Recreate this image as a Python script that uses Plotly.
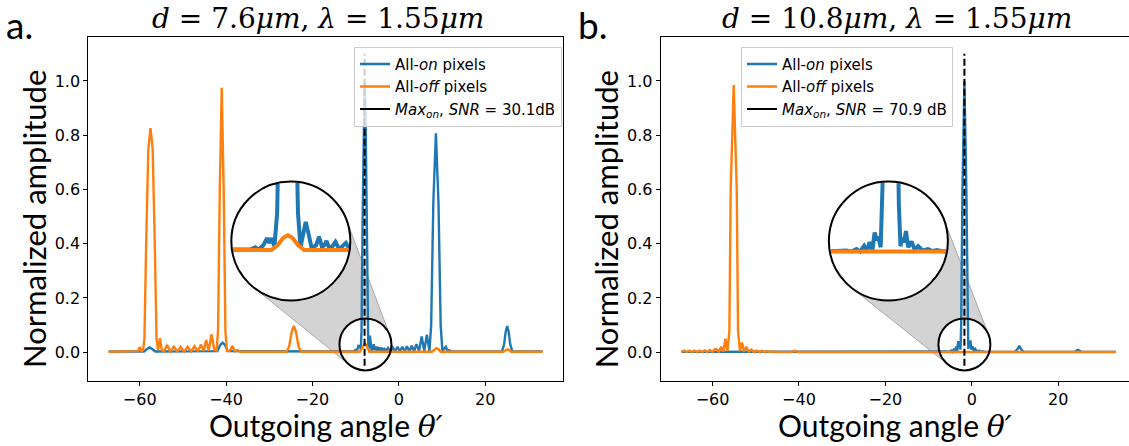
import math
import plotly.graph_objects as go

W, H = 1129, 446

# ---------------- data (outgoing angle in degrees, normalized amplitude) ----------------
# panel a: d = 7.6 um
a_on_x = [-67.2, -59.0, -58.3, -57.7, -57.1, -56.4, -42.0, -41.4, -40.8, -40.2, -39.6,
          -12.0, -10.4, -10.1, -9.85, -9.55, -9.3, -9.15, -9.0, -8.8, -8.62, -8.4, -8.15,
          -7.92, -7.7, -7.45, -7.22, -7.05, -6.85, -6.7, -6.5, -6.3, -6.0, -5.8, -5.6,
          -5.45, -5.3, -5.1, -4.9, -4.7, -4.45, -4.2, -4.0, -3.75, -3.4, -3.0, -2.5, -1.95,
          -1.4, -0.85, -0.3, 0.25, 0.8, 1.35, 1.9, 2.45, 3.0, 3.55, 4.1, 4.7, 5.3, 5.9,
          6.5, 7.1, 7.5, 8.0, 8.6, 9.2, 9.7, 10.1, 10.5, 10.9, 11.3, 11.7, 12.2,
          23.9, 24.4, 24.75, 25.1, 25.45, 25.8, 26.3, 33.3]
a_on_y = [0.003, 0.003, 0.012, 0.018, 0.012, 0.003, 0.004, 0.026, 0.035, 0.026, 0.004,
          0.003, 0.003, 0.008, 0.003, 0.012, 0.027, 0.017, 0.027, 0.010, 0.080, 0.450, 0.880,
          1.000, 0.880, 0.450, 0.080, 0.008, 0.035, 0.061, 0.035, 0.006, 0.012, 0.030, 0.008,
          0.012, 0.021, 0.005, 0.010, 0.019, 0.004, 0.010, 0.017, 0.004, 0.015, 0.003, 0.016,
          0.003, 0.018, 0.003, 0.020, 0.003, 0.020, 0.003, 0.022, 0.003, 0.024, 0.003, 0.030,
          0.004, 0.058, 0.005, 0.065, 0.005, 0.100, 0.550, 0.807, 0.550, 0.100, 0.005,
          0.015, 0.020, 0.004, 0.008, 0.003,
          0.003, 0.030, 0.075, 0.097, 0.075, 0.030, 0.003, 0.003]

a_off_x = [-67.2, -60.4, -60.0, -59.6, -59.2, -58.9, -58.5, -58.0, -57.5, -57.0, -56.5,
           -56.1, -55.75, -55.3, -54.9, -54.3, -53.7, -52.9, -52.1, -51.3, -50.5, -49.7,
           -48.9, -48.1, -47.3, -46.55, -45.8, -45.2, -44.6, -44.0, -43.4, -42.7, -42.2,
           -41.85, -41.45, -41.0, -40.55, -40.15, -39.8, -39.1, -38.5, -38.0, -37.3, -36.8,
           -26.0, -25.4, -24.8, -24.3, -23.8, -23.2, -22.6,
           -9.0, -8.6, -8.2, -7.9, -7.6, -7.2, -6.8,
           7.7, 8.3, 8.7, 9.1, 9.7, 24.2, 24.7, 25.1, 25.5, 26.0, 33.3]
a_off_y = [0.002, 0.004, 0.020, 0.004, 0.008, 0.050, 0.400, 0.750, 0.826, 0.750, 0.400,
           0.050, 0.008, 0.052, 0.008, 0.004, 0.027, 0.003, 0.020, 0.003, 0.020, 0.003,
           0.020, 0.003, 0.022, 0.004, 0.028, 0.005, 0.045, 0.006, 0.066, 0.008, 0.006,
           0.080, 0.600, 0.975, 0.600, 0.080, 0.005, 0.006, 0.023, 0.003, 0.008, 0.002,
           0.002, 0.020, 0.075, 0.097, 0.075, 0.020, 0.002,
           0.002, 0.012, 0.028, 0.033, 0.028, 0.012, 0.002,
           0.002, 0.012, 0.015, 0.012, 0.002, 0.002, 0.009, 0.011, 0.009, 0.002, 0.002]

# panel b: d = 10.8 um
b_on_x = [-67.2, -16.6, -16.0, -15.4, -7.7, -6.7, -5.7, -5.25, -4.8, -4.45, -4.1, -3.85,
          -3.6, -3.35, -3.15, -2.95, -2.8, -2.6, -2.45, -2.15, -1.7, -1.25, -0.95, -0.8,
          -0.65, -0.5, -0.3, -0.1, 0.2, 0.5, 0.8, 1.2, 1.7, 2.1, 2.5, 3.0,
          10.0, 10.6, 11.0, 11.4, 12.0, 23.8, 24.3, 24.6, 24.9, 25.4, 33.3]
b_on_y = [0.0015, 0.0015, 0.004, 0.0015, 0.0015, 0.002, 0.003, 0.001, 0.006, 0.001, 0.013,
          0.002, 0.021, 0.003, 0.041, 0.025, 0.032, 0.010, 0.100, 0.600, 1.000, 0.600,
          0.100, 0.012, 0.030, 0.020, 0.044, 0.010, 0.022, 0.004, 0.012, 0.003, 0.006,
          0.002, 0.004, 0.0015,
          0.0015, 0.012, 0.024, 0.012, 0.0015, 0.0015, 0.006, 0.009, 0.006, 0.0015, 0.0015]

b_off_x = [-67.2, -66.6, -66.0, -65.4, -64.8, -64.2, -63.6, -63.0, -62.4, -61.8, -61.2,
           -60.6, -60.0, -59.4, -59.0, -58.5, -58.0, -57.5, -57.0, -56.55, -56.1, -55.8,
           -55.1, -54.4, -54.1, -53.65, -53.2, -52.7, -52.2, -51.6, -51.0, -50.4, -49.8,
           -49.2, -48.6, -48.0, -47.4, -46.8, -46.2, -45.6, -41.6, -41.0, -40.4, 33.3]
b_off_y = [0.002, 0.006, 0.001, 0.006, 0.001, 0.006, 0.001, 0.006, 0.001, 0.007, 0.001,
           0.008, 0.001, 0.012, 0.010, 0.002, 0.020, 0.003, 0.050, 0.004, 0.080, 0.600,
           0.985, 0.600, 0.080, 0.004, 0.036, 0.003, 0.020, 0.002, 0.010, 0.001, 0.006,
           0.001, 0.005, 0.001, 0.004, 0.001, 0.003, 0.001, 0.001, 0.006, 0.001, 0.001]

a_peak = -7.92
b_peak = -1.7
max_line_y = [-0.05, 1.1]
a_snr = "30.1dB"
b_snr = "70.9 dB"
EQ = "&nbsp;=&nbsp;"
a_title = f"<i>d</i>{EQ}7.6<i>μm</i>,&nbsp;<i>λ</i>{EQ}1.55<i>μm</i>"
b_title = f"<i>d</i>{EQ}10.8<i>μm</i>,&nbsp;<i>λ</i>{EQ}1.55<i>μm</i>"
x_ticks = [-60, -40, -20, 0, 20]
y_ticks = [0.0, 0.2, 0.4, 0.6, 0.8, 1.0]

BLUE = "#1f77b4"
ORANGE = "#ff7f0e"

# ---------------- geometry (pixels) ----------------
Y_TOP, Y_BOT = 37.3, 381.0
Y_RANGE = [-0.106, 1.161]

panels = [
    dict(name="a", x0=88.3, x1=563.3, xr=[-71.9, 38.1], mirror_y=True,
         on=(a_on_x, a_on_y), off=(a_off_x, a_off_y), peak=a_peak, snr=a_snr,
         title=a_title, title_x=318.0, label_x=4.0,
         small=(a_peak + 0.2, 0.029, 26.0), big=(-25.0, 0.41, 59.5),
         in_xr=[-11.7, -3.7], in_yr=[-0.104, 0.146], legend_x=354.0),
    dict(name="b", x0=660.7, x1=1129.0, xr=[-72.0, 36.4], mirror_y=False,
         on=(b_on_x, b_on_y), off=(b_off_x, b_off_y), peak=b_peak, snr=b_snr,
         title=b_title, title_x=897.0, label_x=576.0,
         small=(b_peak, 0.029, 26.0), big=(-19.3, 0.41, 59.5),
         in_xr=[b_peak - 5.6, b_peak + 5.2], in_yr=[-0.102, 0.148], legend_x=741.0),
]


def px(p, x):
    return p["x0"] + (x - p["xr"][0]) / (p["xr"][1] - p["xr"][0]) * (p["x1"] - p["x0"])


def py(y):
    return Y_BOT - (y - Y_RANGE[0]) / (Y_RANGE[1] - Y_RANGE[0]) * (Y_BOT - Y_TOP)


def clip_circle(xs, ys, xr, yr, R=0.985):
    """Clip a polyline to the circle inscribed in the inset axes box."""
    xm, xh = (xr[0] + xr[1]) / 2, (xr[1] - xr[0]) / 2
    ym, yh = (yr[0] + yr[1]) / 2, (yr[1] - yr[0]) / 2
    u = [(x - xm) / xh for x in xs]
    v = [(y - ym) / yh for y in ys]
    ou, ov = [], []
    cont = False
    for i in range(len(u) - 1):
        ax_, ay_ = u[i], v[i]
        dx, dy = u[i + 1] - ax_, v[i + 1] - ay_
        a = dx * dx + dy * dy
        b = 2 * (ax_ * dx + ay_ * dy)
        c = ax_ * ax_ + ay_ * ay_ - R * R
        disc = b * b - 4 * a * c
        if a == 0 or disc <= 0:
            cont = False
            continue
        sq = math.sqrt(disc)
        t0 = max((-b - sq) / (2 * a), 0.0)
        t1 = min((-b + sq) / (2 * a), 1.0)
        if t0 >= t1:
            cont = False
            continue
        if not (cont and t0 == 0.0):
            if ou:
                ou.append(None)
                ov.append(None)
            ou.append(ax_ + t0 * dx)
            ov.append(ay_ + t0 * dy)
        ou.append(ax_ + t1 * dx)
        ov.append(ay_ + t1 * dy)
        cont = (t1 == 1.0)
    X = [None if q is None else xm + q * xh for q in ou]
    Y = [None if q is None else ym + q * yh for q in ov]
    return X, Y


fig = go.Figure()
shapes = []
annotations = []
layout_axes = {}

for k, p in enumerate(panels):
    xa = "x" if k == 0 else "x2"
    ya = "y" if k == 0 else "y2"
    leg = "legend" if k == 0 else "legend2"
    ia = 3 + k
    # main traces
    fig.add_trace(go.Scatter(x=p["on"][0], y=p["on"][1], mode="lines", xaxis=xa, yaxis=ya,
                             line=dict(color=BLUE, width=2.4), name="All-<i>on</i> pixels",
                             legend=leg, hoverinfo="skip"))
    fig.add_trace(go.Scatter(x=p["off"][0], y=p["off"][1], mode="lines", xaxis=xa, yaxis=ya,
                             line=dict(color=ORANGE, width=2.4), name="All-<i>off</i> pixels",
                             legend=leg, hoverinfo="skip"))
    fig.add_trace(go.Scatter(x=[p["peak"], p["peak"]], y=max_line_y, mode="lines",
                             xaxis=xa, yaxis=ya, showlegend=False, hoverinfo="skip",
                             line=dict(color="black", width=2, dash="7px,3px")))
    fig.add_trace(go.Scatter(x=[None], y=[None], mode="lines", xaxis=xa, yaxis=ya,
                             line=dict(color="black", width=2), legend=leg,
                             name="<i>Max</i><sub><i>on</i></sub>, <i>SNR</i> = " + p["snr"]))
    # inset traces (clipped to the magnifier circle)
    for (sx, sy), col in ((p["on"], BLUE), (p["off"], ORANGE)):
        cx_, cy_ = clip_circle(sx, sy, p["in_xr"], p["in_yr"])
        fig.add_trace(go.Scatter(x=cx_, y=cy_, mode="lines", xaxis=f"x{ia}", yaxis=f"y{ia}",
                                 line=dict(color=col, width=4), showlegend=False,
                                 hoverinfo="skip", connectgaps=False))

    # axes
    axis_common = dict(showgrid=False, zeroline=False, showline=True, linecolor="black",
                       linewidth=1, ticks="outside", ticklen=4, tickwidth=1, tickcolor="black",
                       tickfont=dict(family="DejaVu Sans", size=16, color="black"))
    xd = [p["x0"] / W, min(p["x1"] / W, 1.0)]
    yd = [1 - Y_BOT / H, 1 - Y_TOP / H]
    layout_axes["xaxis" if k == 0 else "xaxis2"] = dict(
        axis_common, domain=xd, range=p["xr"], tickvals=x_ticks, anchor=ya, mirror=True)
    layout_axes["yaxis" if k == 0 else "yaxis2"] = dict(
        axis_common, domain=yd, range=Y_RANGE, tickvals=y_ticks, tickformat=".1f",
        anchor=xa, mirror=p["mirror_y"])

    # circles / cone in pixel space
    bx, byv, br = p["big"]
    BX, BY = px(p, bx), py(byv)
    sxv, syv, sr = p["small"]
    SX, SY = px(p, sxv), py(syv)
    layout_axes[f"xaxis{ia}"] = dict(domain=[(BX - br) / W, (BX + br) / W], range=p["in_xr"],
                                     visible=False, anchor=f"y{ia}")
    layout_axes[f"yaxis{ia}"] = dict(domain=[1 - (BY + br) / H, 1 - (BY - br) / H],
                                     range=p["in_yr"], visible=False, anchor=f"x{ia}")

    dx, dy = SX - BX, SY - BY
    L = math.hypot(dx, dy)
    phi = math.atan2(dy, dx)
    alpha = math.acos((br - sr) / L)
    pts = []
    for sgn in (1, -1):
        ang = phi + sgn * alpha
        nx, ny = math.cos(ang), math.sin(ang)
        pts.append(((BX + br * nx), (BY + br * ny), (SX + sr * nx), (SY + sr * ny)))
    (b1x, b1y, s1x, s1y), (b2x, b2y, s2x, s2y) = pts
    path = (f"M {b1x / W} {1 - b1y / H} L {s1x / W} {1 - s1y / H} "
            f"L {s2x / W} {1 - s2y / H} L {b2x / W} {1 - b2y / H} Z")
    shapes.append(dict(type="path", xref="paper", yref="paper", path=path, layer="below",
                       fillcolor="#d3d3d3", line=dict(color="#a8a8a8", width=1)))
    for (CX, CY, R) in ((BX, BY, br), (SX, SY, sr)):
        shapes.append(dict(type="circle", xref="paper", yref="paper", layer="below",
                           x0=(CX - R) / W, x1=(CX + R) / W, y0=1 - (CY + R) / H,
                           y1=1 - (CY - R) / H, fillcolor="white", line=dict(width=0)))
    for (CX, CY, R) in ((BX, BY, br), (SX, SY, sr)):
        shapes.append(dict(type="circle", xref="paper", yref="paper", layer="above",
                           x0=(CX - R) / W, x1=(CX + R) / W, y0=1 - (CY + R) / H,
                           y1=1 - (CY - R) / H, fillcolor="rgba(0,0,0,0)",
                           line=dict(color="black", width=2)))

    # texts
    annotations.append(dict(text=p["name"] + ".", xref="paper", yref="paper",
                            x=p["label_x"] / W, y=1.0, xanchor="left", yanchor="top",
                            showarrow=False, font=dict(family="Lato", size=37, color="black")))
    annotations.append(dict(text=p["title"], xref="paper", yref="paper",
                            x=p["title_x"] / W, y=1 - 18.0 / H, xanchor="center",
                            yanchor="middle", showarrow=False,
                            font=dict(family="DejaVu Serif", size=28, color="black")))
    xcen = (p["x0"] + px(p, p["xr"][1])) / 2
    annotations.append(dict(text='Outgoing angle <span style="font-family:DejaVu Serif"><i>θ′</i></span>',
                            xref="paper", yref="paper", x=xcen / W, y=1 - 425.0 / H,
                            xanchor="center", yanchor="middle", showarrow=False,
                            font=dict(family="Lato", size=30, color="black")))
    annotations.append(dict(text="Normalized amplitude", xref="paper", yref="paper",
                            x=(p["x0"] - 54.5) / W, y=1 - ((Y_TOP + Y_BOT) / 2 + 10) / H,
                            xanchor="center", yanchor="middle", textangle=-90, showarrow=False,
                            font=dict(family="Lato", size=31, color="black")))

    legend_cfg = dict(x=p["legend_x"] / W, y=1 - 46.7 / H, xanchor="left", yanchor="top",
                      bgcolor="rgba(255,255,255,0.8)", bordercolor="#cccccc", borderwidth=1,
                      font=dict(family="DejaVu Sans", size=15, color="black"),
                      itemwidth=30, traceorder="normal")
    layout_axes["legend" if k == 0 else "legend2"] = legend_cfg

fig.update_layout(
    width=W, height=H, autosize=False,
    margin=dict(l=0, r=0, t=0, b=0),
    paper_bgcolor="white", plot_bgcolor="rgba(0,0,0,0)",
    shapes=shapes, annotations=annotations, showlegend=True,
    **layout_axes,
)

fig.write_html("out.html", config={"displayModeBar": False},
               post_script="document.body.style.margin='0px';document.body.style.padding='0px';")
